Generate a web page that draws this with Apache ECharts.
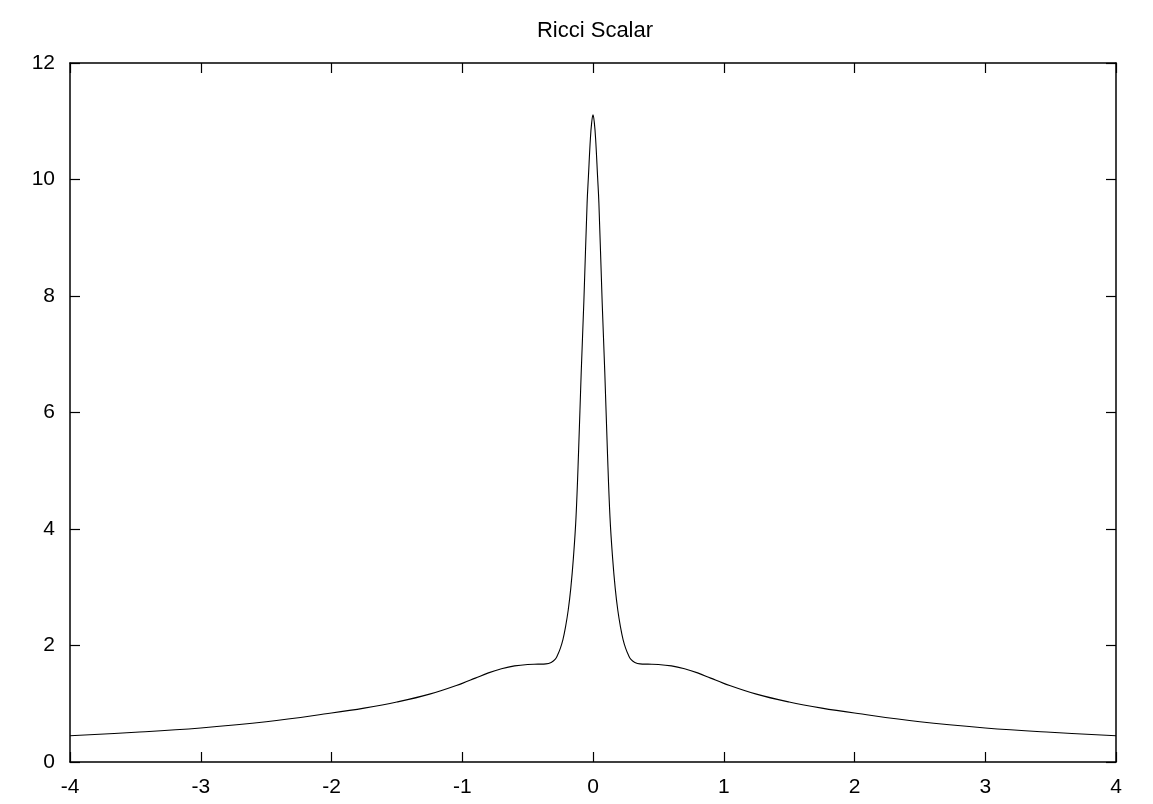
<!DOCTYPE html>
<html>
<head>
<meta charset="utf-8">
<title>Ricci Scalar</title>
<script src="https://cdn.jsdelivr.net/npm/echarts@6/dist/echarts.min.js"></script>
<style>
  html, body { margin: 0; padding: 0; background: #fff; }
  #chart { width: 1153px; height: 804px; }
</style>
</head>
<body>
<div id="chart"></div>
<script>
// x positions
var xValues = [
  -4, -3.5, -3, -2.5, -2, -1.75, -1.5, -1.25, -1, -0.9, -0.8, -0.7, -0.6, -0.5,
  -0.42, -0.36, -0.32, -0.29, -0.27, -0.25, -0.23, -0.21, -0.19, -0.17, -0.15,
  -0.13, -0.11, -0.09, -0.07, -0.045, -0.035, -0.02, -0.01, 0,
  0.01, 0.02, 0.035, 0.045, 0.07, 0.09, 0.11, 0.13, 0.15, 0.17, 0.19, 0.21,
  0.23, 0.25, 0.27, 0.29, 0.32, 0.36, 0.42, 0.5, 0.6, 0.7, 0.8, 0.9, 1,
  1.25, 1.5, 1.75, 2, 2.5, 3, 3.5, 4
];
// Ricci scalar values (estimated)
var ricciValues = [
  0.45, 0.51, 0.585, 0.69, 0.84, 0.925, 1.03, 1.165, 1.35, 1.44, 1.53, 1.60, 1.65, 1.675,
  1.68, 1.685, 1.71, 1.76, 1.84, 1.95, 2.10, 2.32, 2.60, 2.98, 3.50,
  4.20, 5.35, 6.70, 7.90, 9.60, 10.05, 10.70, 10.98, 11.11,
  10.98, 10.70, 10.05, 9.60, 7.90, 6.70, 5.35, 4.20, 3.50, 2.98, 2.60, 2.32,
  2.10, 1.95, 1.84, 1.76, 1.71, 1.685, 1.68, 1.675, 1.65, 1.60, 1.53, 1.44, 1.35,
  1.165, 1.03, 0.925, 0.84, 0.69, 0.585, 0.51, 0.45
];
var xTicks = [-4, -3, -2, -1, 0, 1, 2, 3, 4];
var yTicks = [0, 2, 4, 6, 8, 10, 12];

var chart = echarts.init(document.getElementById('chart'));

var points = [];
for (var i = 0; i < xValues.length; i++) {
  points.push([xValues[i], ricciValues[i]]);
}

var fontFamily = '"Liberation Sans", Arial, sans-serif';

function frameAxis(extra) {
  var base = {
    type: 'value',
    axisLine: { show: true, onZero: false, lineStyle: { color: '#000', width: 1.5 } },
    axisTick: { show: true, inside: true, length: 10, lineStyle: { color: '#000', width: 1.2 } },
    splitLine: { show: false },
    axisLabel: { show: false }
  };
  for (var k in extra) base[k] = extra[k];
  return base;
}

var option = {
  animation: false,
  backgroundColor: '#fff',
  title: {
    text: 'Ricci Scalar',
    left: 590,
    top: 15,
    textAlign: 'center',
    textStyle: { fontFamily: fontFamily, fontSize: 22, fontWeight: 'normal', color: '#000' }
  },
  grid: { left: 70, right: 37, top: 63, bottom: 42 },
  xAxis: [
    frameAxis({
      position: 'bottom',
      min: xTicks[0], max: xTicks[xTicks.length - 1], interval: 1,
      axisLabel: { show: true, margin: 15, color: '#000', fontSize: 21, fontFamily: fontFamily }
    }),
    frameAxis({ position: 'top', min: xTicks[0], max: xTicks[xTicks.length - 1], interval: 1 })
  ],
  yAxis: [
    frameAxis({
      position: 'left',
      min: yTicks[0], max: yTicks[yTicks.length - 1], interval: 2,
      axisLabel: { show: true, margin: 15, color: '#000', fontSize: 21, fontFamily: fontFamily }
    }),
    frameAxis({ position: 'right', min: yTicks[0], max: yTicks[yTicks.length - 1], interval: 2 })
  ],
  series: [{
    type: 'line',
    xAxisIndex: 0,
    yAxisIndex: 0,
    data: points,
    showSymbol: false,
    smooth: 0.4,
    lineStyle: { color: '#000', width: 1.1 }
  }]
};

chart.setOption(option);
</script>
</body>
</html>
